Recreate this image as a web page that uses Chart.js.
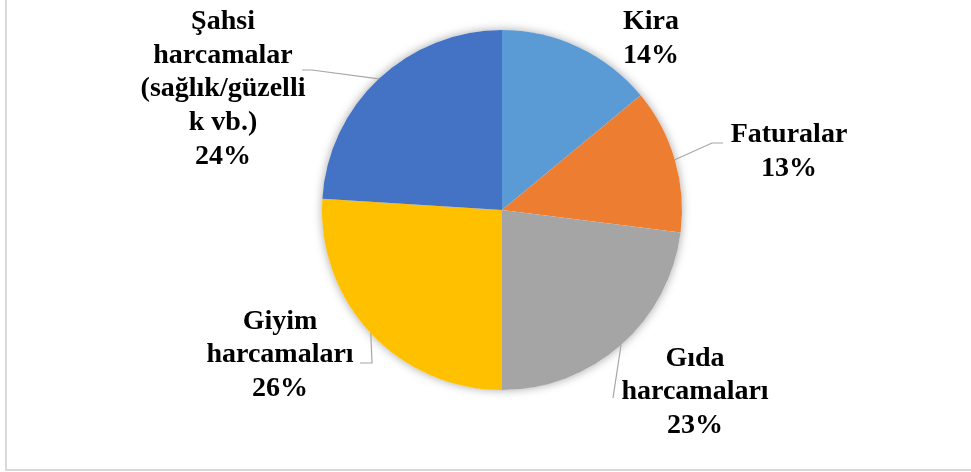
<html>
<head>
  <meta charset="utf-8">
  <title>Harcama dağılımı</title>
  <style>
    body { margin: 0; background: #fff; }
    #wrap { position: relative; width: 971px; height: 472px; overflow: hidden; }
    #frame {
      position: absolute; left: 5px; top: -10px; width: 1000px; height: 481px;
      box-sizing: border-box; border: 2px solid #D9D9D9;
    }
    canvas { position: absolute; left: 0; top: 0; }
  </style>
</head>
<body>

<div id="wrap">
  <div id="frame"></div>
  <canvas id="pie" width="971" height="472"></canvas>
</div>

<script src="https://cdn.jsdelivr.net/npm/chart.js@4"></script>
<script>

// data
const categories = [
  ['Kira'],
  ['Faturalar'],
  ['Gıda', 'harcamaları'],
  ['Giyim', 'harcamaları'],
  ['Şahsi', 'harcamalar', '(sağlık/güzelli', 'k vb.)']
];
const shares = [14, 13, 23, 26, 24];
const colors = ['#5B9BD5', '#ED7D31', '#A5A5A5', '#FFC000', '#4472C4'];

// label block centre and leader points, in px relative to the pie centre
const labelPlace = [
  { dx: 149, dy: -172, leader: null },
  { dx: 287, dy: -59, leader: [[210, -67], [221, -67]] },
  { dx: 193, dy: 181, leader: [[111, 188]] },
  { dx: -222, dy: 144, leader: [[-130, 153], [-142, 153]] },
  { dx: -279, dy: -122, leader: [[-190, -140], [-200, -140]] }
];

const LINE_H = 33.7;
const FONT = 'bold 28px "Liberation Serif", "Times New Roman", serif';

const pieShadow = {
  id: 'pieShadow',
  beforeDatasetsDraw(chart) {
    const arc = chart.getDatasetMeta(0).data[0];
    if (!arc) return;
    const ctx = chart.ctx;
    ctx.save();
    ctx.shadowColor = 'rgba(0,0,0,0.35)';
    ctx.shadowBlur = 10;
    ctx.fillStyle = '#ffffff';
    ctx.beginPath();
    ctx.arc(arc.x, arc.y, arc.outerRadius, 0, Math.PI * 2);
    ctx.fill();
    ctx.restore();
  }
};

const outsideLabels = {
  id: 'outsideLabels',
  afterDatasetsDraw(chart) {
    const ctx = chart.ctx;
    const meta = chart.getDatasetMeta(0);
    const total = shares.reduce((a, b) => a + b, 0);
    ctx.save();
    meta.data.forEach((arc, i) => {
      const p = labelPlace[i];
      const cx = arc.x, cy = arc.y;
      const mid = (arc.startAngle + arc.endAngle) / 2;

      // leader line from the slice edge
      if (p.leader) {
        ctx.strokeStyle = '#A6A6A6';
        ctx.lineWidth = 1.2;
        ctx.beginPath();
        ctx.moveTo(cx + Math.cos(mid) * arc.outerRadius, cy + Math.sin(mid) * arc.outerRadius);
        p.leader.forEach(pt => ctx.lineTo(cx + pt[0], cy + pt[1]));
        ctx.stroke();
      }

      // text block
      const lines = categories[i].concat([Math.round(shares[i] / total * 100) + '%']);
      ctx.font = FONT;
      ctx.fillStyle = '#000000';
      ctx.textAlign = 'center';
      ctx.textBaseline = 'middle';
      const top = cy + p.dy - (lines.length - 1) * LINE_H / 2;
      lines.forEach((t, k) => ctx.fillText(t, cx + p.dx, top + k * LINE_H + 1));
    });
    ctx.restore();
  }
};

new Chart(document.getElementById('pie'), {
  type: 'pie',
  data: {
    labels: categories.map(c => c.join(' ')),
    datasets: [{
      data: shares,
      backgroundColor: colors,
      borderWidth: 0,
      hoverOffset: 0
    }]
  },
  options: {
    responsive: false,
    animation: false,
    layout: { padding: { top: 30, bottom: 82, left: 200, right: 167 } },
    plugins: {
      legend: { display: false },
      tooltip: { enabled: false }
    }
  },
  plugins: [pieShadow, outsideLabels]
});

</script>

</body>
</html>
